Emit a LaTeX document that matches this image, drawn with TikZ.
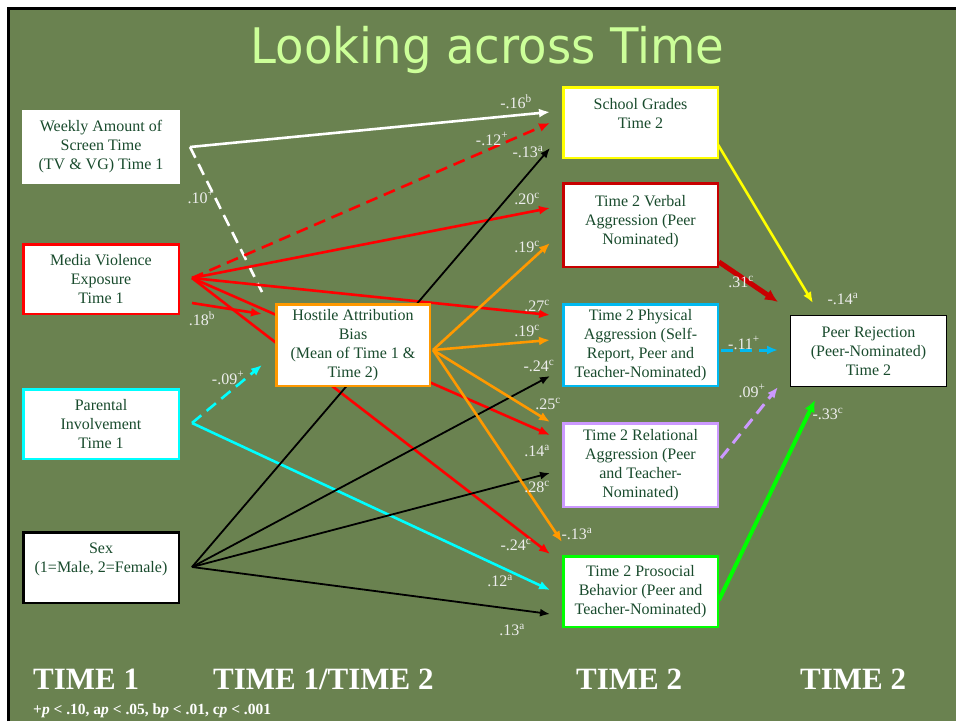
\documentclass[tikz,border=0pt]{standalone}
\usepackage{fontspec}
\setmainfont{Liberation Serif}
\newfontfamily\titlefont{DejaVu Sans}
\usetikzlibrary{arrows.meta}
\definecolor{bg}{RGB}{106,130,80}
\definecolor{txt}{RGB}{25,75,45}
\definecolor{ttl}{RGB}{204,255,153}
\definecolor{orng}{RGB}{255,153,0}
\definecolor{dred}{RGB}{200,0,0}
\definecolor{skyb}{RGB}{0,185,240}
\definecolor{cyn}{RGB}{0,255,255}
\definecolor{lav}{RGB}{204,153,255}
\definecolor{grn}{RGB}{0,255,0}
\definecolor{ylw}{RGB}{255,255,0}
\definecolor{rd}{RGB}{255,0,0}
\definecolor{lbl}{RGB}{238,238,238}
\pgfdeclarelayer{background}
\pgfdeclarelayer{lines}
\pgfsetlayers{background,lines,main}
\tikzset{
  box/.style={draw=#1, fill=white, line width=2.5pt, inner sep=0pt, align=center,
    text=txt, font=\fontsize{16}{19}\selectfont},
  conn/.style={line width=2.6pt, draw=#1, -{Latex[length=11pt,width=9pt]}},
  blk/.style={line width=1.8pt, draw=black, -{Latex[length=10pt,width=8pt]}},
  dashline/.style={dash pattern=on 12pt off 7pt},
  lab/.style={text=lbl, font=\fontsize{16}{18}\selectfont, inner sep=0pt},
  foot/.style={text=white, font=\fontsize{31}{33}\selectfont\bfseries, anchor=base west, inner sep=0pt},
}
\begin{document}
\begin{tikzpicture}[x=1pt,y=-1pt]
\useasboundingbox (0,0) rectangle (956,721);
\begin{pgfonlayer}{background}
  \fill[white] (0,0) rectangle (956,721);
  \fill[bg] (8,8) rectangle (956,721);
  \draw[black, line width=3pt] (8,721) -- (8,8) -- (956,8);
\end{pgfonlayer}

% title
\node[font=\titlefont\fontsize{49}{49}\selectfont, text=ttl, xscale=0.95, anchor=base, inner sep=0pt] (title) at (487.5,63) {Looking across Time};

% boxes
\node[box=white, minimum width=156, minimum height=72] (weekly) at (101,147) {Weekly Amount of\\Screen Time\\(TV \& VG) Time 1};
\node[box=rd, minimum width=155.5, minimum height=69.5] (media) at (101,279) {Media Violence\\Exposure\\Time 1};
\node[box=cyn, minimum width=155.5, minimum height=69.5] (parent) at (101,424) {Parental\\Involvement\\Time 1};
\node[box=black, minimum width=155.5, minimum height=70.5] (sex) at (101,567.5) {Sex\\(1=Male, 2=Female)\\\mbox{}};
\node[box=orng, minimum width=153.5, minimum height=81.5] (hostile) at (353,345) {Hostile Attribution\\Bias\\(Mean of Time 1 \&\\Time 2)};
\node[box=ylw, minimum width=154.5, minimum height=70.5] (school) at (640.5,122.5) {School Grades\\Time 2\\\mbox{}};
\node[box=dred, minimum width=154.5, minimum height=83.5] (verbal) at (640.5,225) {Time 2 Verbal\\Aggression (Peer\\Nominated)\\[-8pt]\mbox{}};
\node[box=skyb, minimum width=154.5, minimum height=81.5] (physical) at (640.5,345) {Time 2 Physical\\Aggression (Self-\\Report, Peer and\\Teacher-Nominated)};
\node[box=lav, minimum width=154.5, minimum height=83.5] (relational) at (640.5,465) {Time 2 Relational\\Aggression (Peer\\and Teacher-\\Nominated)};
\node[box=grn, minimum width=154.5, minimum height=70.5] (prosocial) at (640.5,591.5) {Time 2 Prosocial\\Behavior (Peer and\\Teacher-Nominated)};
\node[box=black, line width=1pt, minimum width=156, minimum height=71] (peer) at (868.5,351) {Peer Rejection\\(Peer-Nominated)\\Time 2};

% connector end points
\coordinate (wOut) at (190,147);
\coordinate (mOut) at (192,278);
\coordinate (mOut2) at (192,303);
\coordinate (pOut) at (192,423);
\coordinate (sOut) at (192,567);
\coordinate (hOut) at (433,350);
\coordinate (hInW) at (262,292);
\coordinate (hInM) at (262,314);
\coordinate (hInP) at (262,365);
\coordinate (scIn1) at (550,112);
\coordinate (scIn2) at (550,123);
\coordinate (scIn3) at (550,148);
\coordinate (vbIn1) at (550,208);
\coordinate (vbIn2) at (550,243);
\coordinate (phIn1) at (550,315);
\coordinate (phIn2) at (550,340);
\coordinate (phIn3) at (550,376);
\coordinate (rlIn1) at (550,422);
\coordinate (rlIn2) at (550,435);
\coordinate (rlIn3) at (550,473);
\coordinate (psIn1) at (562,542);
\coordinate (psIn2) at (550,554);
\coordinate (psIn3) at (550,590);
\coordinate (psIn4) at (550,614);
\coordinate (scOut) at (717,143);
\coordinate (vbOut) at (719,262);
\coordinate (phOut) at (721,350);
\coordinate (rlOut) at (721,458);
\coordinate (psOut) at (719,600);
\coordinate (prIn1) at (813,303);
\coordinate (prIn2) at (778,302);
\coordinate (prIn3) at (778,350);
\coordinate (prIn4) at (778,387);
\coordinate (prIn5) at (815,400);

\begin{pgfonlayer}{lines}
  % white
  \draw[conn=white] (wOut) -- (scIn1);
  \draw[line width=2.6pt, white, dashline] (wOut) -- (hInW);
  % red from media violence
  \draw[conn=rd, dashline] (mOut) -- (scIn2);
  \draw[conn=rd] (mOut) -- (vbIn1);
  \draw[conn=rd] (mOut) -- (phIn1);
  \draw[conn=rd] (mOut) -- (rlIn2);
  \draw[conn=rd] (mOut) -- (psIn2);
  \draw[conn=rd] (mOut2) -- (hInM);
  % cyan from parental involvement
  \draw[conn=cyn, dashline] (pOut) -- (hInP);
  \draw[conn=cyn] (pOut) -- (psIn3);
  % black from sex
  \draw[blk] (sOut) -- (scIn3);
  \draw[blk] (sOut) -- (phIn3);
  \draw[blk] (sOut) -- (rlIn3);
  \draw[blk] (sOut) -- (psIn4);
  % orange from hostile
  \draw[conn=orng] (hOut) -- (vbIn2);
  \draw[conn=orng] (hOut) -- (phIn2);
  \draw[conn=orng] (hOut) -- (rlIn1);
  \draw[conn=orng] (hOut) -- (psIn1);
  % to peer rejection
  \draw[conn=ylw] (scOut) -- (prIn1);
  \draw[line width=5pt, dred, -{Latex[length=13pt,width=12pt]}] (vbOut) -- (prIn2);
  \draw[conn=skyb, line width=3pt, dashline] (phOut) -- (prIn3);
  \draw[conn=lav, line width=3pt, dashline] (rlOut) -- (prIn4);
  \draw[line width=4pt, grn, -{Latex[length=12pt,width=11pt]}] (psOut) -- (prIn5);
\end{pgfonlayer}

% coefficient labels
\node[lab] (l1) at (516,102) {-.16\textsuperscript{b}};
\node[lab] (l2) at (492,139) {-.12\textsuperscript{+}};
\node[lab] (l3) at (528,152) {-.13\textsuperscript{a}};
\node[lab] (l4) at (201,197) {.10\textsuperscript{+}};
\node[lab] (l5) at (527,199) {.20\textsuperscript{c}};
\node[lab] (l6) at (527,247) {.19\textsuperscript{c}};
\node[lab] (l7) at (537,306) {.27\textsuperscript{c}};
\node[lab] (l8) at (202,319) {.18\textsuperscript{b}};
\node[lab] (l9) at (527,331) {.19\textsuperscript{c}};
\node[lab] (l10) at (228,378) {-.09\textsuperscript{+}};
\node[lab] (l11) at (539,366) {-.24\textsuperscript{c}};
\node[lab] (l12) at (548,404) {.25\textsuperscript{c}};
\node[lab] (l13) at (537,451) {.14\textsuperscript{a}};
\node[lab] (l14) at (537,487) {.28\textsuperscript{c}};
\node[lab] (l15) at (577,534) {-.13\textsuperscript{a}};
\node[lab] (l16) at (516,545) {-.24\textsuperscript{c}};
\node[lab] (l17) at (500,581) {.12\textsuperscript{a}};
\node[lab] (l18) at (512,630) {.13\textsuperscript{a}};
\node[lab] (l19) at (741,282) {.31\textsuperscript{c}};
\node[lab] (l20) at (843,299) {-.14\textsuperscript{a}};
\node[lab] (l21) at (744,343) {-.11\textsuperscript{+}};
\node[lab] (l22) at (752,391) {.09\textsuperscript{+}};
\node[lab] (l23) at (828,414) {-.33\textsuperscript{c}};

% footer
\node[foot] (f1) at (33,689) {TIME 1};
\node[foot] (f2) at (213,689) {TIME 1/TIME 2};
\node[foot] (f3) at (576,689) {TIME 2};
\node[foot] (f4) at (800,689) {TIME 2};
\node[anchor=base west, inner sep=0pt, text=white, font=\fontsize{15.5}{17}\selectfont\bfseries] (fn) at (33,714) {+\textit{p} < .10, a\textit{p} < .05, b\textit{p} < .01, c\textit{p} < .001};
\end{tikzpicture}
\end{document}
